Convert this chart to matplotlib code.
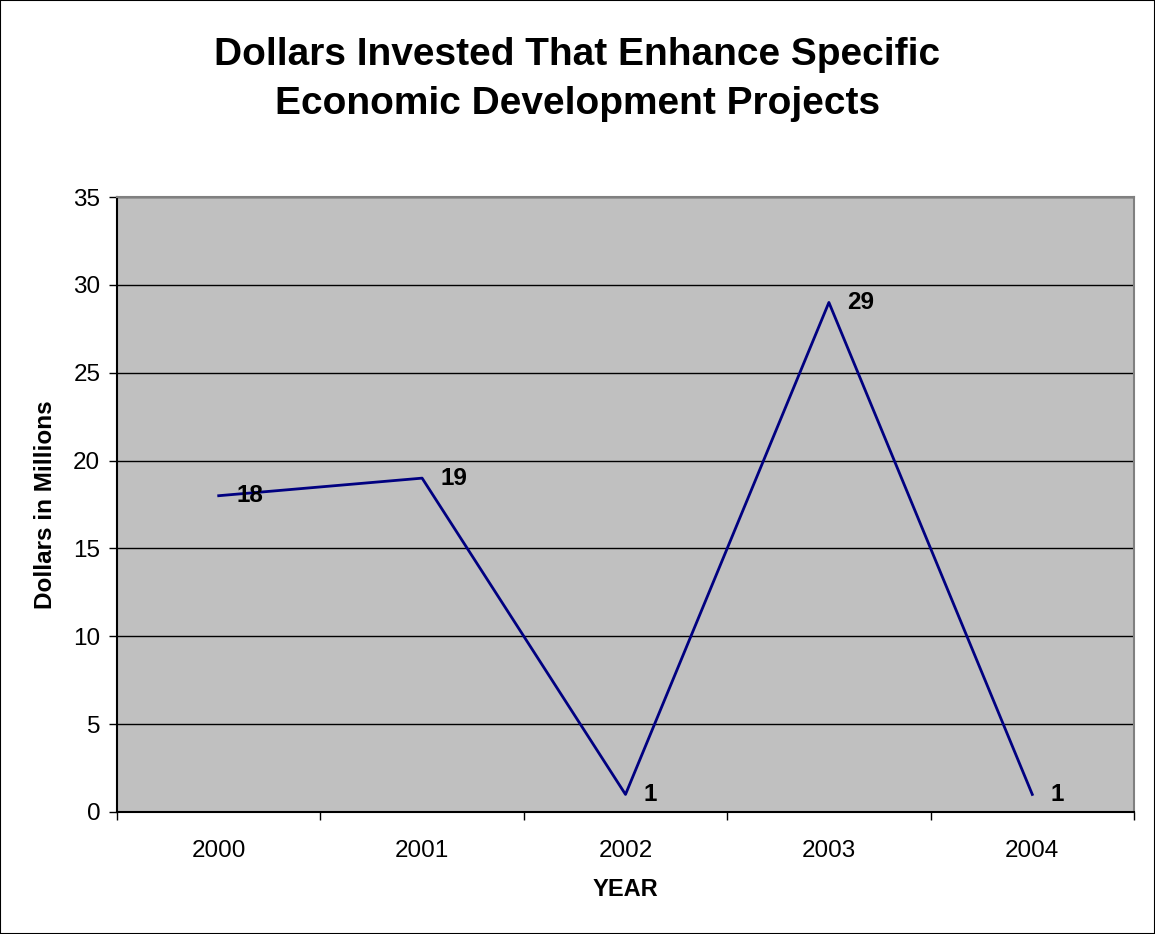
import matplotlib.pyplot as plt
import matplotlib.ticker as mticker

plt.rcParams['font.family'] = ['Liberation Sans', 'DejaVu Sans']

years = ['2000', '2001', '2002', '2003', '2004']
dollars = [18, 19, 1, 29, 1]

fig = plt.figure(figsize=(11.55, 9.34), dpi=100)
ax = fig.add_axes([117 / 1155, 1 - 812 / 934, (1134 - 117) / 1155, (812 - 197) / 934])

x = list(range(len(years)))
ax.set_facecolor('#C0C0C0')
ax.plot(x, dollars, color='#000080', lw=2, zorder=3)
for xi, v in zip(x, dollars):
    ax.annotate(str(v), (xi, v), xytext=(13, 0), textcoords='offset points',
                fontsize=17.5, fontweight='bold', va='center', ha='left', zorder=4)

ax.set_xlim(-0.5, len(years) - 0.5)
ax.set_ylim(0, 35)
ax.yaxis.set_major_locator(mticker.MultipleLocator(5))
ax.grid(axis='y', color='black', lw=1)
ax.set_axisbelow(True)

# category ticks sit between the years, labels in the middle
ax.set_xticks([i - 0.5 for i in range(len(years) + 1)])
ax.set_xticklabels([])
ax.set_xticks(x, minor=True)
ax.set_xticklabels(years, minor=True, fontsize=17.5)
ax.tick_params(axis='x', which='minor', length=0, pad=20)
ax.tick_params(axis='x', which='major', length=6, width=1, direction='out')
ax.tick_params(axis='y', length=6, width=1, labelsize=17.5, pad=6)

for s in ['top', 'right']:
    ax.spines[s].set_color('#808080')
    ax.spines[s].set_linewidth(1.5)
for s in ['left', 'bottom']:
    ax.spines[s].set_color('black')
    ax.spines[s].set_linewidth(1.5)

ax.set_xlabel('YEAR', fontsize=17, fontweight='bold', labelpad=12)
ax.set_ylabel('Dollars in Millions', fontsize=17.5, fontweight='bold', labelpad=12)

fig.text(0.5, 0.915, 'Dollars Invested That Enhance Specific\nEconomic Development Projects',
         ha='center', va='center', fontsize=28, fontweight='bold', linespacing=1.45)

fig.patches.append(plt.Rectangle((0, 0), 1, 1, transform=fig.transFigure,
                                 fill=False, edgecolor='black', lw=1.5))

fig.savefig('out.png', dpi=100)
